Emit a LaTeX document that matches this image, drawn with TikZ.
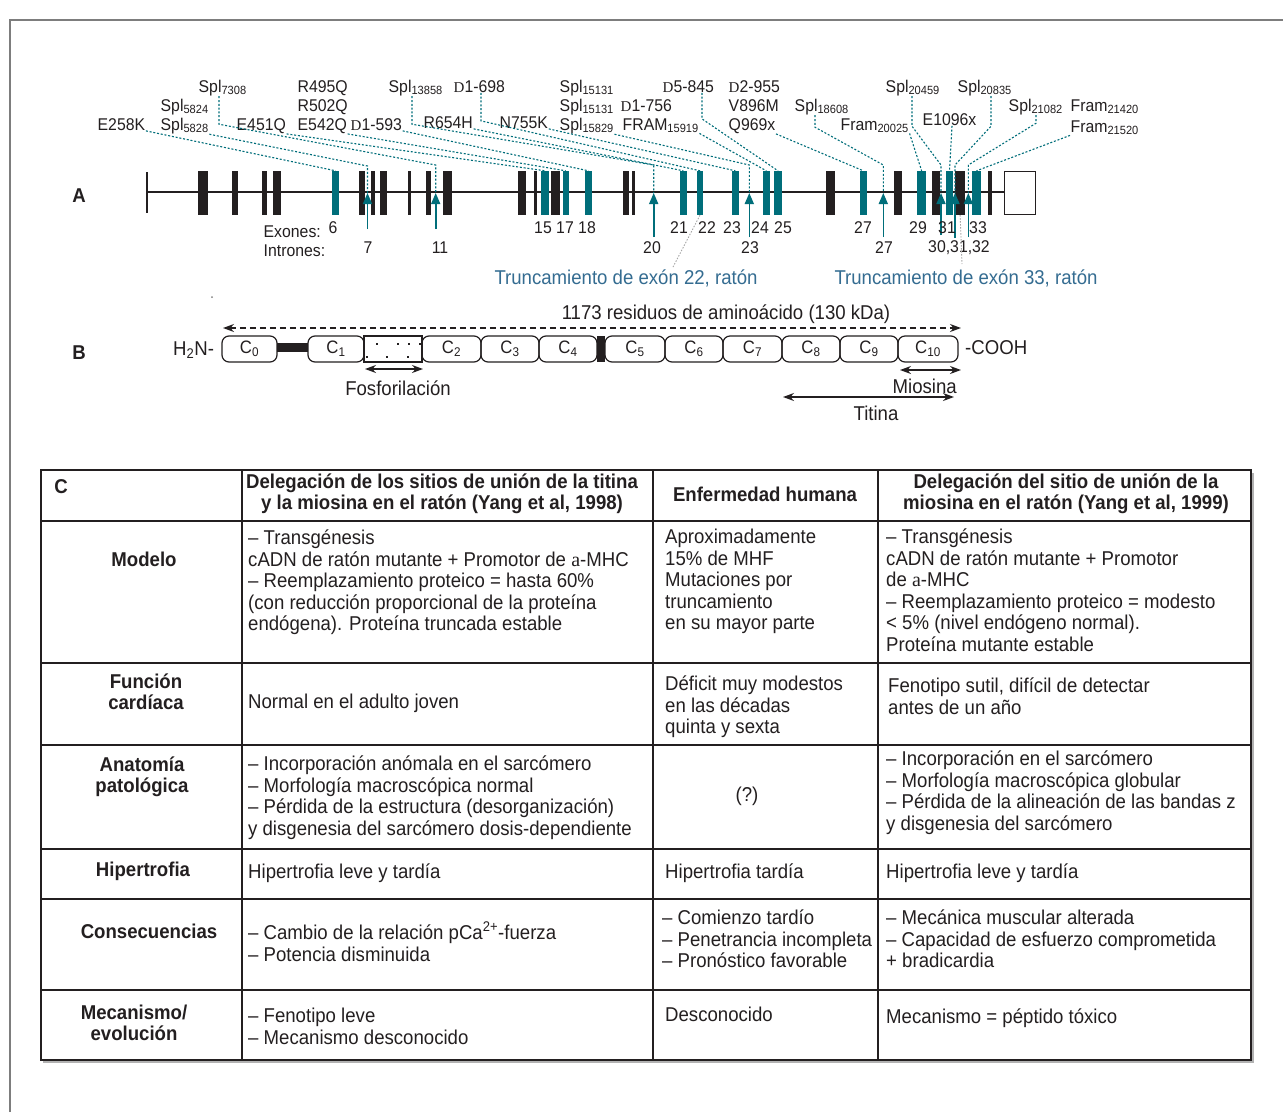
\documentclass[tikz,border=0pt]{standalone}
\usepackage{fontspec}
\setmainfont{Liberation Sans}[FakeStretch=0.93]
\newfontfamily\dfont{Liberation Serif}
\usetikzlibrary{arrows.meta,calc}
\definecolor{ink}{RGB}{35,31,32}
\definecolor{tealx}{RGB}{0,110,122}
\definecolor{bluet}{RGB}{52,108,145}
\definecolor{framec}{RGB}{125,125,125}
\newcommand{\dd}{{\dfont\fontsize{15}{15}\selectfont D}}
\newcommand{\alf}{{\dfont a}}
\begin{document}
\begin{tikzpicture}[x=1pt,y=-1pt,
  lab/.style={anchor=base west, inner sep=0.5pt, text=ink, font=\fontsize{17}{17}\selectfont},
  num/.style={anchor=center, inner sep=0pt, text=ink, font=\fontsize{17}{17}\selectfont},
  lead/.style={tealx, line width=1.1pt, dash pattern=on 2pt off 1.8pt},
  tex/.style={fill=tealx, draw=none, inner sep=0pt, minimum height=44pt},
  bex/.style={fill=ink, draw=none, inner sep=0pt, minimum height=44pt},
  intr/.style={tealx, line width=1.6pt, -{Triangle[width=9pt,length=11pt]}},
  graydot/.style={gray!70, line width=0.9pt, dash pattern=on 1.5pt off 1.5pt},
  dom/.style={draw=ink, line width=1.2pt, rounded corners=7pt, minimum height=26pt, inner sep=0pt, font=\fontsize{18}{18}\selectfont, text=ink},
  bt/.style={anchor=center, inner sep=0pt, text=ink, font=\fontsize{20}{20}\selectfont},
  dbl/.style={ink, line width=1.2pt, {Stealth[length=11pt,width=8pt]}-{Stealth[length=11pt,width=8pt]}},
  tb/.style={anchor=north west, align=left, inner sep=0pt, text=ink, font=\fontsize{20}{21.5}\selectfont, execute at begin node=\strut},
  tbc/.style={anchor=center, align=center, inner sep=0pt, text=ink, font=\fontsize{20}{21.5}\selectfont},
  hd/.style={anchor=center, align=center, inner sep=0pt, text=ink, font=\bfseries\fontsize{20}{20.5}\selectfont},
  grid/.style={ink, line width=1.2pt}]
\useasboundingbox (0,0) rectangle (1283,1112);
\fill[white] (0,0) rectangle (1283,1112);
% outer frame
\draw[framec, line width=1.6pt] (10,1112) -- (10,20) -- (1283,20);

% ---------------- Panel A ----------------
\node[anchor=center, inner sep=0pt, text=ink, font=\bfseries\fontsize{20}{20}\selectfont] (lblA) at (79,196) {A};
\draw[ink, line width=1.3pt] (147,192) -- (1005,192);
\draw[ink, line width=1.3pt] (147,172) -- (147,213);
% black exons
\foreach \a/\b [count=\k] in {197.7/207.7, 232.3/237.7, 262.3/267.3, 273.3/280.7, 359.3/365, 370.7/375.3, 380.3/387.3, 408.3/411, 426/431, 443/452, 518.3/526, 534/537, 550.7/560, 623.3/629.3, 631.7/635, 825.7/835, 894.3/902, 932/940, 955.3/965, 987.7/992}
  \node[bex, minimum width={\b-\a}] (bx\k) at ({(\a+\b)/2},193) {};
% teal exons
\foreach \n/\a/\b in {6/332.3/339, 15/541/549.3, 17/562.7/568.7, 18/585.3/591.7, 21/680/686.7, 22/697.3/702.7, 23/731.7/739, 24/763/769.7, 25/773.7/782.3, 27/859.7/867, 29/917/926.3, 31/945.7/953.3, 33/972.3/980.7}
  \node[tex, minimum width={\b-\a}] (e\n) at ({(\a+\b)/2},193) {};
\node[draw=ink, fill=white, line width=1.3pt, inner sep=0pt, minimum width=31pt, minimum height=43pt] (utr) at (1020,193) {};

% intron targets
\coordinate (i7) at (367.5,193);
\coordinate (i11) at (435.7,193);
\coordinate (i20) at (653.7,193);
\coordinate (i23) at (749.3,193);
\coordinate (i27) at (883.3,193);
\coordinate (i30) at (941,193);
\coordinate (i31) at (955,193);
\coordinate (i32) at (968.3,193);

% mutation labels
\node[lab] (lE258K) at (97,130) {E258K};
\node[lab] (lS5824) at (160,111) {Spl\textsubscript{5824}};
\node[lab] (lS5828) at (160,130) {Spl\textsubscript{5828}};
\node[lab] (lS7308) at (198,92) {Spl\textsubscript{7308}};
\node[lab] (lE451Q) at (236,130) {E451Q};
\node[lab] (lR495Q) at (297,92) {R495Q};
\node[lab] (lR502Q) at (297,111) {R502Q};
\node[lab] (lE542Q) at (297,130) {E542Q};
\node[lab] (lD593) at (350,130) {\dd1-593};
\node[lab] (lS13858) at (388,92) {Spl\textsubscript{13858}};
\node[lab] (lD698) at (453,92) {\dd1-698};
\node[lab] (lR654H) at (423,128) {R654H};
\node[lab] (lN755K) at (499,128) {N755K};
\node[lab] (lS15131a) at (559,92) {Spl\textsubscript{15131}};
\node[lab] (lS15131b) at (559,111) {Spl\textsubscript{15131}};
\node[lab] (lS15829) at (559,130) {Spl\textsubscript{15829}};
\node[lab] (lD756) at (620,111) {\dd1-756};
\node[lab] (lFRAM) at (622,130) {FRAM\textsubscript{15919}};
\node[lab] (lD845) at (662,92) {\dd5-845};
\node[lab] (lD955) at (728,92) {\dd2-955};
\node[lab] (lV896M) at (728,111) {V896M};
\node[lab] (lQ969x) at (728,130) {Q969x};
\node[lab] (lS18608) at (794,111) {Spl\textsubscript{18608}};
\node[lab] (lF20025) at (840,130) {Fram\textsubscript{20025}};
\node[lab] (lS20459) at (885,92) {Spl\textsubscript{20459}};
\node[lab] (lE1096x) at (922,125) {E1096x};
\node[lab] (lS20835) at (957,92) {Spl\textsubscript{20835}};
\node[lab] (lS21082) at (1008,111) {Spl\textsubscript{21082}};
\node[lab] (lF21420) at (1070,111) {Fram\textsubscript{21420}};
\node[lab] (lF21520) at (1070,132) {Fram\textsubscript{21520}};

% leaders
\draw[lead] (lE258K.south east) -- (e6.north);
\draw[lead] (lS5828.south east) -- ($(i7)+(0,-27)$) -- (i7);
\draw[lead] ($(lS7308.south west)+(21,0)$) -- ++(0,28) -- ($(i11)+(0,-28)$) -- (i11);
\draw[lead] (lE451Q.south east) -- (e15.north);
\draw[lead] (lE542Q.south east) -- (e17.north);
\draw[lead] (lD593.south east) -- (e18.north);
\draw[lead] ($(lS13858.south west)+(24,0)$) -- ++(0,28) -- ($(i20)+(0,-28)$) -- (i20);
\draw[lead] (lR654H.south east) -- (e21.north);
\draw[lead] ($(lD698.south west)+(28,0)$) -- ++(0,28) -- (e22.north);
\draw[lead] (lN755K.south east) -- (e23.north);
\draw[lead] (lS15829.south east) -- ($(i23)+(0,-28)$) -- (i23);
\draw[lead] (lFRAM.south east) -- (e24.north);
\draw[lead] ($(lD845.south west)+(40,0)$) -- ++(0,26) -- (e25.north);
\draw[lead] (lQ969x.south east) -- (e27.north);
\draw[lead] ($(lS18608.south west)+(21,0)$) -- ++(0,12) -- ($(i27)+(0,-28)$) -- (i27);
\draw[lead] (lF20025.south east) -- (e29.north);
\draw[lead] ($(lS20459.south west)+(27,0)$) -- ++(0,30) -- ($(i30)+(0,-28)$) -- (i30);
\draw[lead] ($(lE1096x.south west)+(30,0)$) -- (e31.north);
\draw[lead] ($(lS20835.south west)+(34,0)$) -- ++(0,30) -- ($(i31)+(0,-28)$) -- (i31);
\draw[lead] ($(lS21082.south west)+(28,0)$) -- ++(0,8) -- ($(i32)+(0,-28)$) -- (i32);
\draw[lead] (lF21520.south west) -- (e33.north);

% intron arrows
\foreach \c/\l in {i7/36, i11/36, i20/44, i23/44, i27/44, i30/42, i31/45, i32/44}
  \draw[intr] ($(\c)+(0,\l)$) -- (\c);

% numbers
\node[num] (n6) at (333,228) {6};
\node[num] (n15) at (543,228) {15};
\node[num] (n17) at (565,228) {17};
\node[num] (n18) at (587,228) {18};
\node[num] (n21) at (679,228) {21};
\node[num] (n22) at (707,228) {22};
\node[num] (n23) at (732,228) {23};
\node[num] (n24) at (760,228) {24};
\node[num] (n25) at (783,228) {25};
\node[num] (n27) at (863,228) {27};
\node[num] (n29) at (918,228) {29};
\node[num] (n31) at (947,228) {31};
\node[num] (n33) at (978,228) {33};
\node[num] (m7) at (368,248) {7};
\node[num] (m11) at (440,248) {11};
\node[num] (m20) at (652,248) {20};
\node[num] (m23) at (750,248) {23};
\node[num] (m27) at (884,248) {27};
\node[num] (m30) at (959,248) {30,31,32};
\node[lab] (exo) at (263,237) {Exones:};
\node[lab] (intro) at (263,256) {Intrones:};

% truncation notes
\node[anchor=center, inner sep=0pt, text=bluet, font=\fontsize{20}{20}\selectfont] (tr22) at (626,278) {Truncamiento de exón 22, ratón};
\node[anchor=center, inner sep=0pt, text=bluet, font=\fontsize{20}{20}\selectfont] (tr33) at (966,278) {Truncamiento de exón 33, ratón};
\coordinate (g22) at (673,267);
\coordinate (g33) at (962,264);
\draw[graydot] (e22.south) -- (g22);
\draw[graydot] (bx19.south) -- (g33);
\fill[gray] (212,297) circle (1pt);

% ---------------- Panel B ----------------
\node[anchor=center, inner sep=0pt, text=ink, font=\bfseries\fontsize{20}{20}\selectfont] (lblB) at (79,353) {B};
\node[anchor=base west, inner sep=0pt, text=ink, font=\fontsize{20}{20}\selectfont] (h2n) at (173,355) {H\textsubscript{2}N-};
\fill[ink] (277,343) rectangle (308,352);
\node[dom, minimum width=55pt] (c0) at (249.5,349) {C\textsubscript{0}};
\node[dom, minimum width=56pt] (c1) at (336,349) {C\textsubscript{1}};
\node[draw=ink, line width=1.2pt, inner sep=0pt, minimum width=58pt, minimum height=26pt] (ph) at (393,349) {};
\foreach \x/\y in {377/344, 398/344, 409/344, 420/344, 367/357, 387/357, 408/357}
  \fill[ink] (\x-1.3,\y-1.3) rectangle (\x+1.3,\y+1.3);
\node[dom, minimum width=59pt] (c2) at (451.5,349) {C\textsubscript{2}};
\node[dom, minimum width=58pt] (c3) at (510,349) {C\textsubscript{3}};
\node[dom, minimum width=58pt] (c4) at (568,349) {C\textsubscript{4}};
\fill[ink] (597,336) rectangle (605,362);
\node[dom, minimum width=60pt] (c5) at (635,349) {C\textsubscript{5}};
\node[dom, minimum width=58pt] (c6) at (694,349) {C\textsubscript{6}};
\node[dom, minimum width=59pt] (c7) at (752.5,349) {C\textsubscript{7}};
\node[dom, minimum width=58pt] (c8) at (811,349) {C\textsubscript{8}};
\node[dom, minimum width=58pt] (c9) at (869,349) {C\textsubscript{9}};
\node[dom, minimum width=60pt] (c10) at (928,349) {C\textsubscript{10}};
\node[anchor=base west, inner sep=0pt, text=ink, font=\fontsize{20}{20}\selectfont] (cooh) at (965,354) {-COOH};

\coordinate (aL) at (223,328);
\coordinate (aR) at (961,328);
\draw[dbl, dash pattern=on 6pt off 4pt] (aL) -- (aR);
\node[bt] (res) at (726,314) {1173 residuos de aminoácido (130 kDa)};
\coordinate (fL) at (365,369);
\coordinate (fR) at (423,369);
\draw[dbl] (fL) -- (fR);
\node[bt] (fos) at (398,388) {Fosforilación};
\coordinate (mL) at (900,370);
\coordinate (mR) at (961,370);
\draw[dbl] (mL) -- (mR);
\node[bt, anchor=east] (mio) at (957,386) {Miosina};
\coordinate (tL) at (783,397);
\coordinate (tR) at (954,397);
\draw[dbl] (tL) -- (tR);
\node[bt] (tit) at (876,413) {Titina};

% ---------------- Panel C: table ----------------
\draw[gray!60, line width=1.2pt] (1253,473) -- (1253,1062) -- (43,1062);
\draw[grid] (41,470) rectangle (1251,1060);
\foreach \x in {242,653,878} \draw[grid] (\x,470) -- (\x,1060);
\foreach \y in {521,663,745,849,899,990} \draw[grid] (41,\y) -- (1251,\y);

% header
\node[hd] (hC) at (61,487) {C};
\node[hd] (h2) at (442,494) {Delegación de los sitios de unión de la titina\\y la miosina en el ratón (Yang et al, 1998)};
\node[hd] (h3) at (765,494) {Enfermedad humana};
\node[hd] (h4) at (1066,494) {Delegación del sitio de unión de la\\miosina en el ratón (Yang et al, 1999)};

% row labels
\node[hd] (r1) at (144,559) {Modelo};
\node[hd] (r2) at (146,692) {Función\\cardíaca};
\node[hd] (r3) at (142,777) {Anatomía\\patológica};
\node[hd] (r4) at (143,871) {Hipertrofia};
\node[hd] (r5) at (149,931) {Consecuencias};
\node[hd] (r6) at (134,1023) {Mecanismo/\\evolución};

% column 2
\node[tb] (a1) at (248,530) {– Transgénesis\\cADN de ratón mutante + Promotor de \alf-MHC\\– Reemplazamiento proteico = hasta 60\%\\(con reducción proporcional de la proteína\\endógena). Proteína truncada estable};
\node[tb] (a2) at (248,693) {Normal en el adulto joven};
\node[tb] (a3) at (248,756) {– Incorporación anómala en el sarcómero\\– Morfología macroscópica normal\\– Pérdida de la estructura (desorganización)\\y disgenesia del sarcómero dosis-dependiente};
\node[tb] (a4) at (248,863) {Hipertrofia leve y tardía};
\node[tb] (a5) at (248,922) {– Cambio de la relación pCa\textsuperscript{2+}-fuerza\\– Potencia disminuida};
\node[tb] (a6) at (248,1008) {– Fenotipo leve\\– Mecanismo desconocido};

% column 3
\node[tb] (b1) at (665,529) {Aproximadamente\\15\% de MHF\\Mutaciones por\\truncamiento\\en su mayor parte};
\node[tb] (b2) at (665,676) {Déficit muy modestos\\en las décadas\\quinta y sexta};
\node[tbc] (b3) at (747,796) {(?)};
\node[tb] (b4) at (665,863) {Hipertrofia tardía};
\node[tb] (b5) at (662,910) {– Comienzo tardío\\– Penetrancia incompleta\\– Pronóstico favorable};
\node[tb] (b6) at (665,1006) {Desconocido};

% column 4
\node[tb] (d1) at (886,529) {– Transgénesis\\cADN de ratón mutante + Promotor\\de \alf-MHC\\– Reemplazamiento proteico = modesto\\< 5\% (nivel endógeno normal).\\Proteína mutante estable};
\node[tb] (d2) at (888,678) {Fenotipo sutil, difícil de detectar\\antes de un año};
\node[tb] (d3) at (886,751) {– Incorporación en el sarcómero\\– Morfología macroscópica globular\\– Pérdida de la alineación de las bandas z\\y disgenesia del sarcómero};
\node[tb] (d4) at (886,863) {Hipertrofia leve y tardía};
\node[tb] (d5) at (886,910) {– Mecánica muscular alterada\\– Capacidad de esfuerzo comprometida\\+ bradicardia};
\node[tb] (d6) at (886,1008) {Mecanismo = péptido tóxico};
\end{tikzpicture}
\end{document}
